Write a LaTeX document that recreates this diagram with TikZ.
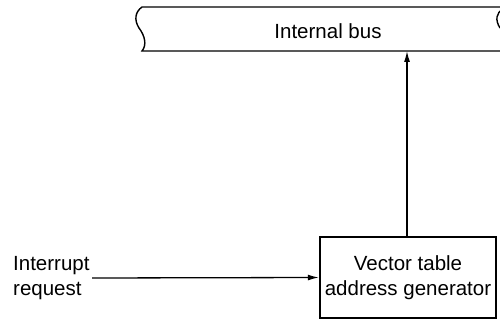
\documentclass[tikz,border=0pt]{standalone}
\usepackage{fontspec}
\setmainfont{Liberation Sans}
\usetikzlibrary{arrows.meta}
\begin{document}
\begin{tikzpicture}[x=1pt,y=-1pt,
  lbl/.style={font=\fontsize{20.5}{25}\selectfont, inner sep=0pt},
  busline/.style={line width=1.4pt},
  genbox/.style={draw, line width=2.4pt, minimum width=176pt, minimum height=81pt, inner sep=0pt, align=center, font=\fontsize{20.5}{25}\selectfont},
  conn/.style={line width=1.3pt, -{Latex[length=11pt,width=6pt]}}]
\useasboundingbox (0,0) rectangle (500,320);
\clip (0,0) rectangle (500,320);
% bus
\draw[busline] (500,7) -- (142,7) .. controls (135,12) and (134,20) .. (139,28) .. controls (145,36) and (147,45) .. (142,51) -- (500,51);
\draw[busline] (503,9) .. controls (496,13) and (495,20) .. (500,28);
\coordinate (busbot) at (407,51);
\node[lbl] (bus) at (328,31) {Internal bus};
% box
\node[genbox] (gen) at (408,277.5) {Vector table\\address generator};
\node[lbl, align=left, anchor=west] (irq) at (13,278) {Interrupt\\request};
\coordinate (irqend) at (92,278);
\draw[conn] (irqend) -- (gen.west);
\draw[conn] (gen.north -| busbot) -- (busbot);
\end{tikzpicture}
\end{document}
